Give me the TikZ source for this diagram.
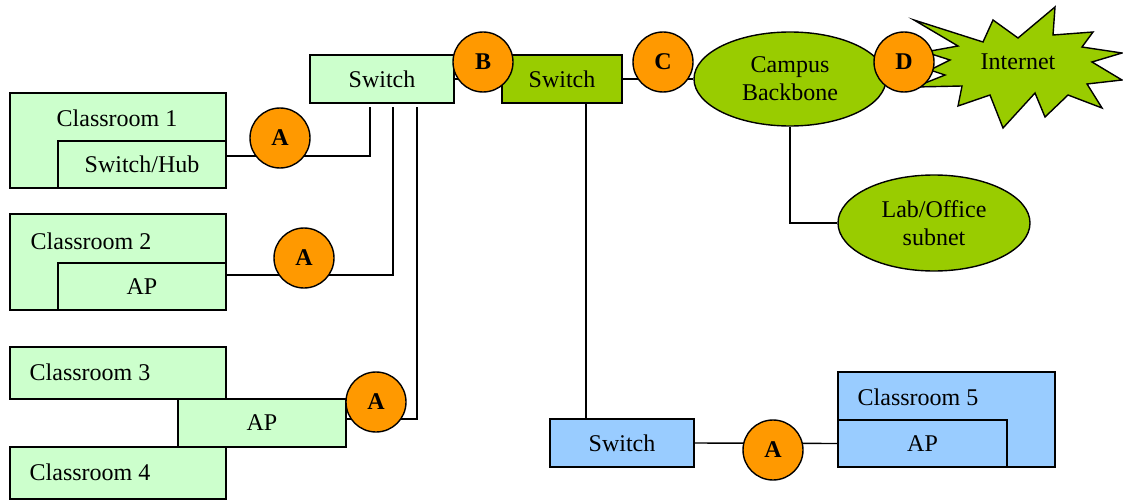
\documentclass[tikz,border=0pt]{standalone}
\usepackage{fontspec}
\setmainfont{Liberation Serif}
\usetikzlibrary{shapes.geometric}
\definecolor{lgreen}{HTML}{CCFFCC}
\definecolor{dgreen}{HTML}{99CC00}
\definecolor{lblue}{HTML}{99CCFF}
\definecolor{orng}{HTML}{FF9900}
\tikzset{room/.style={draw,line width=1.4pt,fill=lgreen,inner sep=0pt},
  tag/.style={circle,draw,line width=1.4pt,fill=orng,minimum size=60pt,inner sep=0pt,font=\fontsize{24}{26}\selectfont\bfseries},
  blob/.style={ellipse,draw,line width=1.4pt,fill=dgreen,inner sep=0pt,align=center,font=\fontsize{24}{28}\selectfont},
  wire/.style={line width=1.4pt}
}

\begin{document}
\begin{tikzpicture}[x=1pt,y=-1pt,font=\fontsize{24}{26}\selectfont]
\useasboundingbox (0,0) rectangle (1123,500);
\def\W{216}\def\w{168}
% left side classrooms
\node[room,minimum width=\W,minimum height=95] (c1) at (118,140.5) {};
\node[room,minimum width=\w,minimum height=47] (hub1) at (142,164.5) {Switch/Hub};
\node at (117,118) {Classroom 1};
\node[room,minimum width=\W,minimum height=96] (c2) at (118,262) {};
\node[room,minimum width=\w,minimum height=47] (ap2) at (142,286.5) {AP};
\node at (91,241) {Classroom 2};
\node[room,minimum width=\W,minimum height=52] (c3) at (118,373) {};
\node at (90,372) {Classroom 3};
\node[room,minimum width=\W,minimum height=52] (c4) at (118,473) {};
\node at (90,472) {Classroom 4};
\node[room,minimum width=\w,minimum height=48] (ap3) at (262,423) {AP};
% switches
\node[room,minimum width=144,minimum height=48] (sw1) at (382,79) {Switch};
\node[room,fill=dgreen,minimum width=120,minimum height=48] (sw2) at (562,79) {Switch};
\node[room,fill=lblue,minimum width=144,minimum height=48] (sw3) at (622,443) {Switch};
% classroom 5
\node[room,fill=lblue,minimum width=217,minimum height=95] (c5) at (946.5,419.5) {};
\node[room,fill=lblue,minimum width=169,minimum height=47] (ap5) at (922.5,443.5) {AP};
\node at (918,397) {Classroom 5};
% backbone
\node[blob,minimum width=192,minimum height=94] (bb) at (790,79) {Campus\\Backbone};
\node[blob,minimum width=192,minimum height=96] (lab) at (934,223) {Lab/Office\\subnet};
\draw[line width=1.4pt,fill=dgreen] (914,20) -- (983,42) -- (993,20) -- (1018,38)
  -- (1055,7) -- (1053,35) -- (1093,32) -- (1082,47) -- (1122,53) -- (1092,62)
  -- (1122,80) -- (1087,84) -- (1102,108) -- (1068,95) -- (1045,117) -- (1035,93)
  -- (1003,128) -- (990,95) -- (958,106) -- (962,86) -- (915,87) -- (945,75)
  -- (930,70) -- (950,60) -- (925,52) -- (958,46) -- cycle;
\node (net) at (1018,62) {Internet};
% wiring
\coordinate (t1) at (370,107);
\coordinate (t2) at (393,107);
\coordinate (t3) at (417,107);
\draw[wire] (hub1.east |- 0,156) -| (t1);
\draw[wire] (ap2.east |- 0,275) -| (t2);
\draw[wire] (ap3.east |- 0,419) -| (t3);
\draw[wire] (sw1.east) -- (sw2.west);
\draw[wire] (sw2.east) -- (bb.west);
\draw[wire] (sw2.south -| 586,0) -- (sw3.north -| 586,0);
\draw[wire] (bb.south) |- (lab.west);
\draw[wire] (sw3.east) -- (ap5.west);
% link markers
\node[tag] (a1) at (280,138) {A};
\node[tag] (a2) at (304,258) {A};
\node[tag] (a3) at (376,402) {A};
\node[tag] (a4) at (773,450) {A};
\node[tag] (b) at (483,62) {B};
\node[tag] (cc) at (663,62) {C};
\node[tag] (d) at (904,62) {D};
\end{tikzpicture}
\end{document}
